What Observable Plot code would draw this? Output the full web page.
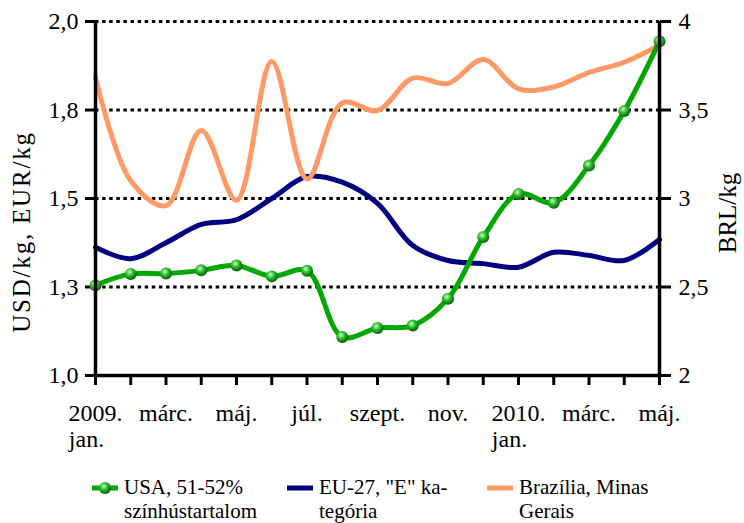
<!DOCTYPE html>
<html>
<head>
<meta charset="utf-8">
<script src="https://cdn.jsdelivr.net/npm/d3@7"></script>
<script src="https://cdn.jsdelivr.net/npm/@observablehq/plot@0.6"></script>
<style>
  html, body { margin: 0; padding: 0; background: #fff; }
  #wrap { position: relative; width: 744px; height: 523px; overflow: hidden; font-family: "Liberation Serif", "Times New Roman", serif; color: #000; }
  .ytitle { position: absolute; white-space: nowrap; font-size: 25px; transform-origin: center center; }
  .leg { position: absolute; top: 476px; display: flex; align-items: flex-start; font-size: 21px; line-height: 23.5px; }
  .leg svg { margin-top: 2px; margin-right: 6px; }
</style>
</head>
<body>
<div id="wrap">
  <div id="chart"></div>
  <div class="ytitle" id="ltitle">USD/kg, EUR/kg</div>
  <div class="ytitle" id="rtitle">BRL/kg</div>
  <div id="legend"></div>
</div>
<script>
// Months: 2009 Jan … 2010 May
const months = ["2009. jan.","febr.","márc.","ápr.","máj.","jún.","júl.","aug.","szept.","okt.","nov.","dec.","2010. jan.","febr.","márc.","ápr.","máj."];
const xTickLabels = ["2009.\njan.\u00a0\u00a0\u00a0","","márc.","","máj.","","júl.","","szept.","","nov.","","2010.\njan.\u00a0\u00a0\u00a0","","márc.","","máj."];

// USA, 51-52% lean (USD/kg)
const usa = [1.255, 1.287, 1.288, 1.297, 1.311, 1.280, 1.296, 1.109, 1.134, 1.141, 1.217, 1.391, 1.513, 1.488, 1.593, 1.747, 1.944];
// EU-27, "E" category (EUR/kg)
const eu = [1.362, 1.330, 1.375, 1.427, 1.440, 1.500, 1.562, 1.546, 1.486, 1.367, 1.325, 1.316, 1.306, 1.348, 1.339, 1.325, 1.384];
// Brazil, Minas Gerais (BRL/kg, right axis)
const brl = [3.685, 3.10, 2.96, 3.384, 2.99, 3.774, 3.11, 3.54, 3.497, 3.68, 3.65, 3.785, 3.62, 3.63, 3.712, 3.77, 3.866];

const leftTicks = [1, 1.25, 1.5, 1.75, 2];
const leftTickLabels = ["1,0", "1,3", "1,5", "1,8", "2,0"];
const rightTickLabels = ["2", "2,5", "3", "3,5", "4"];
const brlPerLeftUnit = 2; // right axis 2–4 aligned with left axis 1–2

const seriesNames = ["USA, 51-52%\nszínhústartalom", "EU-27, \"E\" ka-\ntegória", "Brazília, Minas\nGerais"];
const colors = ["#00a800", "#000080", "#ff9966"];

const rows = months.map((m, i) => ({i, m, usa: usa[i], eu: eu[i], brl: brl[i]}));

const plot = Plot.plot({
  width: 744,
  height: 462,
  marginTop: 21,
  marginBottom: 87,
  marginLeft: 95,
  marginRight: 85,
  style: {fontFamily: "'Liberation Serif', 'Times New Roman', serif", color: "#000", background: "#fff", overflow: "visible"},
  x: {domain: [0, months.length - 1], axis: null},
  y: {domain: [1, 2], axis: null},
  marks: [
    Plot.ruleY(leftTicks.slice(1), {stroke: "#000", strokeWidth: 3, strokeDasharray: "3.5 3.6"}),
    Plot.axisY({anchor: "left", ticks: leftTicks, tickFormat: d => leftTickLabels[leftTicks.indexOf(d)], tickSize: 10, tickPadding: 7, fontSize: 24, strokeWidth: 3, label: null}),
    Plot.axisY({anchor: "right", ticks: leftTicks, tickFormat: d => rightTickLabels[leftTicks.indexOf(d)], tickSize: 11, tickPadding: 8, fontSize: 24, strokeWidth: 3, label: null}),
    Plot.axisX({ticks: d3.range(months.length), tickFormat: i => xTickLabels[i], tickSize: 10, tickPadding: 16, fontSize: 24, strokeWidth: 3, lineHeight: 1.12, label: null}),
    Plot.line(rows, {x: "i", y: "eu", stroke: colors[1], strokeWidth: 5, curve: "catmull-rom"}),
    Plot.line(rows, {x: "i", y: d => d.brl / brlPerLeftUnit, stroke: colors[2], strokeWidth: 5, curve: "catmull-rom"}),
    Plot.line(rows, {x: "i", y: "usa", stroke: colors[0], strokeWidth: 5, curve: "catmull-rom"}),
    Plot.dot(rows, {x: "i", y: "usa", r: 6, fill: "url(#ball)", stroke: "none"}),
    Plot.ruleX([0, months.length - 1], {stroke: "#000", strokeWidth: 3.5}),
    Plot.ruleY([1], {stroke: "#000", strokeWidth: 3.5})
  ]
});

// gradient for the green spheres
const ns = "http://www.w3.org/2000/svg";
const defs = document.createElementNS(ns, "defs");
defs.innerHTML = `<radialGradient id="ball" cx="40%" cy="35%" r="65%">
  <stop offset="0%" stop-color="#c8ffc8"/>
  <stop offset="45%" stop-color="#30c030"/>
  <stop offset="100%" stop-color="#006000"/>
</radialGradient>`;
plot.insertBefore(defs, plot.firstChild);
document.getElementById("chart").appendChild(plot);

// axis titles
const lt = document.getElementById("ltitle");
lt.style.letterSpacing = "1.8px";
const rt = document.getElementById("rtitle");
function placeTitle(el, cx, cy) {
  const w = el.offsetWidth, h = el.offsetHeight;
  el.style.left = (cx - w / 2) + "px";
  el.style.top = (cy - h / 2) + "px";
  el.style.transform = "rotate(-90deg)";
}
placeTitle(lt, 22, 232);
placeTitle(rt, 728, 213);

// legend
const legend = document.getElementById("legend");
const legX = [92, 287, 487];
seriesNames.forEach((name, k) => {
  const item = document.createElement("div");
  item.className = "leg";
  item.style.left = legX[k] + "px";
  const sw = k === 0
    ? `<svg width="26" height="20"><line x1="0" y1="10" x2="26" y2="10" stroke="${colors[0]}" stroke-width="5"/><circle cx="13" cy="10" r="6" fill="url(#ball)"/></svg>`
    : `<svg width="26" height="20"><line x1="0" y1="10" x2="26" y2="10" stroke="${colors[k]}" stroke-width="5"/></svg>`;
  const lines = name.split("\n").map(s => `<div>${s.replace(/"/g, "&quot;")}</div>`).join("");
  item.innerHTML = sw + `<div>${lines}</div>`;
  legend.appendChild(item);
});
</script>
</body>
</html>
